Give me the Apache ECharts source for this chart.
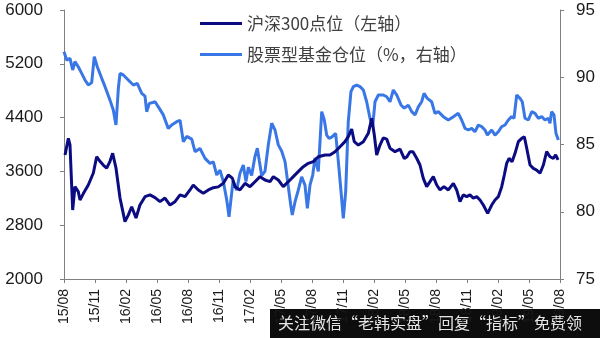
<!DOCTYPE html>
<html>
<head>
<meta charset="utf-8">
<script src="https://cdn.jsdelivr.net/npm/echarts@6/dist/echarts.min.js"></script>
<style>
html,body{margin:0;padding:0;background:#fff;}
#chart{width:600px;height:338px;}
</style>
</head>
<body>
<div id="chart"></div>
<script>
// x tick labels (every 3 months starting 2015-08)
var tickLabels = ['15/08','15/11','16/02','16/05','16/08','16/11','17/02','17/05','17/08','17/11','18/02','18/05','18/08','18/11','19/02','19/05','19/08'];

// 沪深300点位 (left axis); x = months since 2015-08
var hsMonth = [0.10,0.42,0.58,0.84,1.06,1.38,1.55,1.87,2.35,2.84,3.16,3.48,3.80,4.13,4.45,4.71,5.03,5.42,5.90,6.22,6.55,6.97,7.35,7.84,8.32,8.81,9.29,9.77,10.26,10.74,11.23,11.71,12.19,12.51,13.00,13.48,13.97,14.45,14.93,15.42,15.90,16.29,16.55,17.03,17.52,18.00,18.48,18.97,19.45,19.94,20.26,20.74,21.22,21.71,22.19,22.67,23.16,23.64,24.13,24.61,24.77,25.26,25.74,26.23,26.71,27.19,27.51,27.84,28.09,28.48,28.97,29.45,29.78,30.03,30.26,30.58,30.90,31.23,31.55,32.03,32.52,32.93,33.19,33.48,33.77,34.13,34.45,34.77,35.10,35.42,35.74,36.07,36.39,36.77,37.19,37.68,38.00,38.32,38.64,38.97,39.29,39.61,39.94,40.26,40.58,41.00,41.39,41.71,42.03,42.36,42.61,42.84,43.07,43.36,43.65,43.97,44.30,44.55,44.78,45.10,45.42,45.74,46.07,46.39,46.71,47.03,47.35,47.58,47.81];
var hsValue = [3844,4092,3993,3026,3373,3300,3175,3270,3398,3576,3818,3750,3695,3650,3750,3869,3650,3204,2853,2950,3075,2907,3100,3224,3250,3210,3150,3204,3100,3150,3250,3224,3324,3398,3324,3275,3324,3358,3370,3423,3547,3500,3373,3324,3423,3373,3447,3522,3472,3447,3522,3472,3373,3447,3522,3596,3670,3720,3745,3818,3844,3844,3844,3893,3967,4042,4116,4230,4042,3992,4042,4166,4390,4141,3844,3992,4100,4080,3944,3893,3930,3790,3819,3893,3893,3795,3695,3497,3373,3447,3522,3398,3324,3373,3324,3423,3324,3150,3250,3224,3250,3204,3224,3175,3100,2975,3100,3175,3224,3373,3547,3720,3795,3745,3869,4042,4092,4116,3944,3695,3645,3620,3572,3695,3893,3818,3795,3844,3770];

// 股票型基金仓位 (%, right axis)
var fundMonth = [0.00,0.26,0.58,0.84,1.06,1.38,1.71,2.03,2.35,2.68,2.93,3.22,3.65,3.97,4.45,4.77,5.03,5.26,5.42,5.74,6.22,6.71,7.09,7.52,7.84,8.00,8.26,8.49,8.81,9.13,9.61,10.09,10.42,10.91,11.23,11.55,11.87,12.36,12.68,13.16,13.65,14.13,14.45,14.78,15.10,15.42,15.75,15.97,16.36,16.71,17.03,17.35,17.61,17.84,18.16,18.48,18.71,18.90,19.13,19.45,19.77,20.10,20.42,20.74,21.07,21.39,21.71,21.94,22.09,22.36,22.67,23.00,23.32,23.55,23.81,24.07,24.29,24.61,24.94,25.19,25.42,25.65,25.91,26.08,26.29,26.55,26.81,27.03,27.26,27.51,27.77,28.00,28.32,28.65,28.97,29.29,29.61,29.87,30.10,30.42,30.90,31.23,31.55,31.87,32.20,32.61,32.93,33.32,33.65,33.97,34.29,34.61,34.84,35.16,35.58,35.90,36.22,36.71,37.19,37.68,38.16,38.48,38.81,39.13,39.45,39.77,40.10,40.42,40.74,40.97,41.39,41.71,42.03,42.36,42.68,43.00,43.32,43.55,43.81,44.13,44.35,44.61,44.94,45.26,45.58,45.90,46.23,46.55,46.87,47.03,47.19,47.42,47.61,47.84];
var fundValue = [91.90,91.28,91.40,90.54,91.16,90.78,90.29,89.80,89.42,89.60,91.53,90.78,89.92,89.30,88.30,87.57,86.45,89.18,90.29,90.17,89.80,89.42,89.55,88.80,88.60,87.44,88.06,88.10,88.18,87.80,87.20,86.20,86.45,86.70,86.80,85.20,85.60,85.40,84.47,84.70,83.97,83.60,83.70,82.73,83.10,82.24,80.87,79.63,82.30,81.60,82.86,83.48,82.24,83.30,82.70,84.10,84.72,83.80,82.70,83.00,84.97,86.58,86.08,84.97,84.50,83.73,81.86,80.50,79.76,80.75,81.60,82.60,81.98,80.26,82.00,82.73,84.00,83.00,87.44,86.82,85.70,85.46,85.55,85.46,85.83,83.73,81.50,79.51,81.50,86.70,88.93,89.30,89.42,89.30,89.05,88.18,86.95,86.33,88.18,88.68,88.68,88.55,88.18,89.05,88.68,87.94,87.70,87.93,87.44,87.20,87.80,88.18,88.80,88.43,88.18,87.32,87.44,87.07,86.82,87.07,87.32,86.82,86.20,86.08,86.20,85.95,86.45,86.33,86.08,85.70,86.08,85.70,85.95,86.33,86.45,86.82,87.07,86.95,88.68,88.43,88.18,86.95,86.82,87.44,87.32,86.95,87.07,86.82,86.95,86.58,87.44,87.20,85.83,85.33];

var seriesNames = ['沪深300点位（左轴）', '股票型基金仓位（%，右轴）'];
var watermarkText = '关注微信“老韩实盘”回复“指标”免费领';

function pairs(xs, ys){ return xs.map(function(x,i){ return [x, ys[i]]; }); }

var chart = echarts.init(document.getElementById('chart'), null, {renderer:'canvas'});
var axisColor = '#808080';
var labelFont = 'Liberation Sans, Arial, sans-serif';

chart.setOption({
  animation: false,
  backgroundColor: '#ffffff',
  grid: {left: 64, right: 40, top: 10, bottom: 59, containLabel: false},
  legend: {
    orient: 'vertical',
    left: 195,
    top: 10,
    itemGap: 14,
    itemWidth: 42,
    itemHeight: 3,
    icon: 'rect',
    data: seriesNames,
    textStyle: {fontSize: 17, color: '#404040', fontFamily: 'Noto Sans CJK SC, sans-serif'}
  },
  xAxis: {
    type: 'value',
    min: 0, max: 48, interval: 3,
    splitLine: {show: false},
    axisLine: {lineStyle: {color: axisColor, width: 1}},
    axisTick: {show: true, length: 4, inside: false, lineStyle: {color: axisColor}},
    axisLabel: {
      rotate: 90, margin: 10, fontSize: 14, color: '#1a1a1a', fontFamily: labelFont,
      formatter: function(v){ return tickLabels[Math.round(v/3)]; }
    }
  },
  yAxis: [{
    type: 'value', position: 'left',
    min: 2000, max: 6000, interval: 800,
    splitLine: {show: false},
    axisLine: {show: true, lineStyle: {color: axisColor, width: 1}},
    axisTick: {show: true, length: 4, lineStyle: {color: axisColor}},
    axisLabel: {margin: 21, fontSize: 17, color: '#1a1a1a', fontFamily: labelFont,
      formatter: function(v){ return String(v); }}
  }, {
    type: 'value', position: 'right',
    min: 75, max: 95, interval: 5,
    splitLine: {show: false},
    axisLine: {show: true, lineStyle: {color: axisColor, width: 1}},
    axisTick: {show: true, length: 4, lineStyle: {color: axisColor}},
    axisLabel: {margin: 16, fontSize: 17, color: '#1a1a1a', fontFamily: labelFont,
      formatter: function(v){ return String(v); }}
  }],
  series: [{
    name: seriesNames[1], type: 'line', yAxisIndex: 1, z: 2,
    data: pairs(fundMonth, fundValue),
    symbol: 'none', color: '#3a77e6',
    lineStyle: {width: 3, color: '#3a77e6'}
  }, {
    name: seriesNames[0], type: 'line', yAxisIndex: 0, z: 3,
    data: pairs(hsMonth, hsValue),
    symbol: 'none', color: '#0b0b82',
    lineStyle: {width: 3, color: '#0b0b82'}
  }],
  graphic: [{
    type: 'group', z: 100,
    children: [{
      type: 'rect', shape: {x: 270, y: 309, width: 330, height: 29},
      style: {fill: '#0d0d0d'}
    }, {
      type: 'text', x: 278, y: 323,
      style: {text: watermarkText, fill: '#e6e6e6', fontSize: 16, verticalAlign: 'middle',
        fontFamily: 'Noto Sans CJK SC, sans-serif'}
    }]
  }]
});
</script>
</body>
</html>
